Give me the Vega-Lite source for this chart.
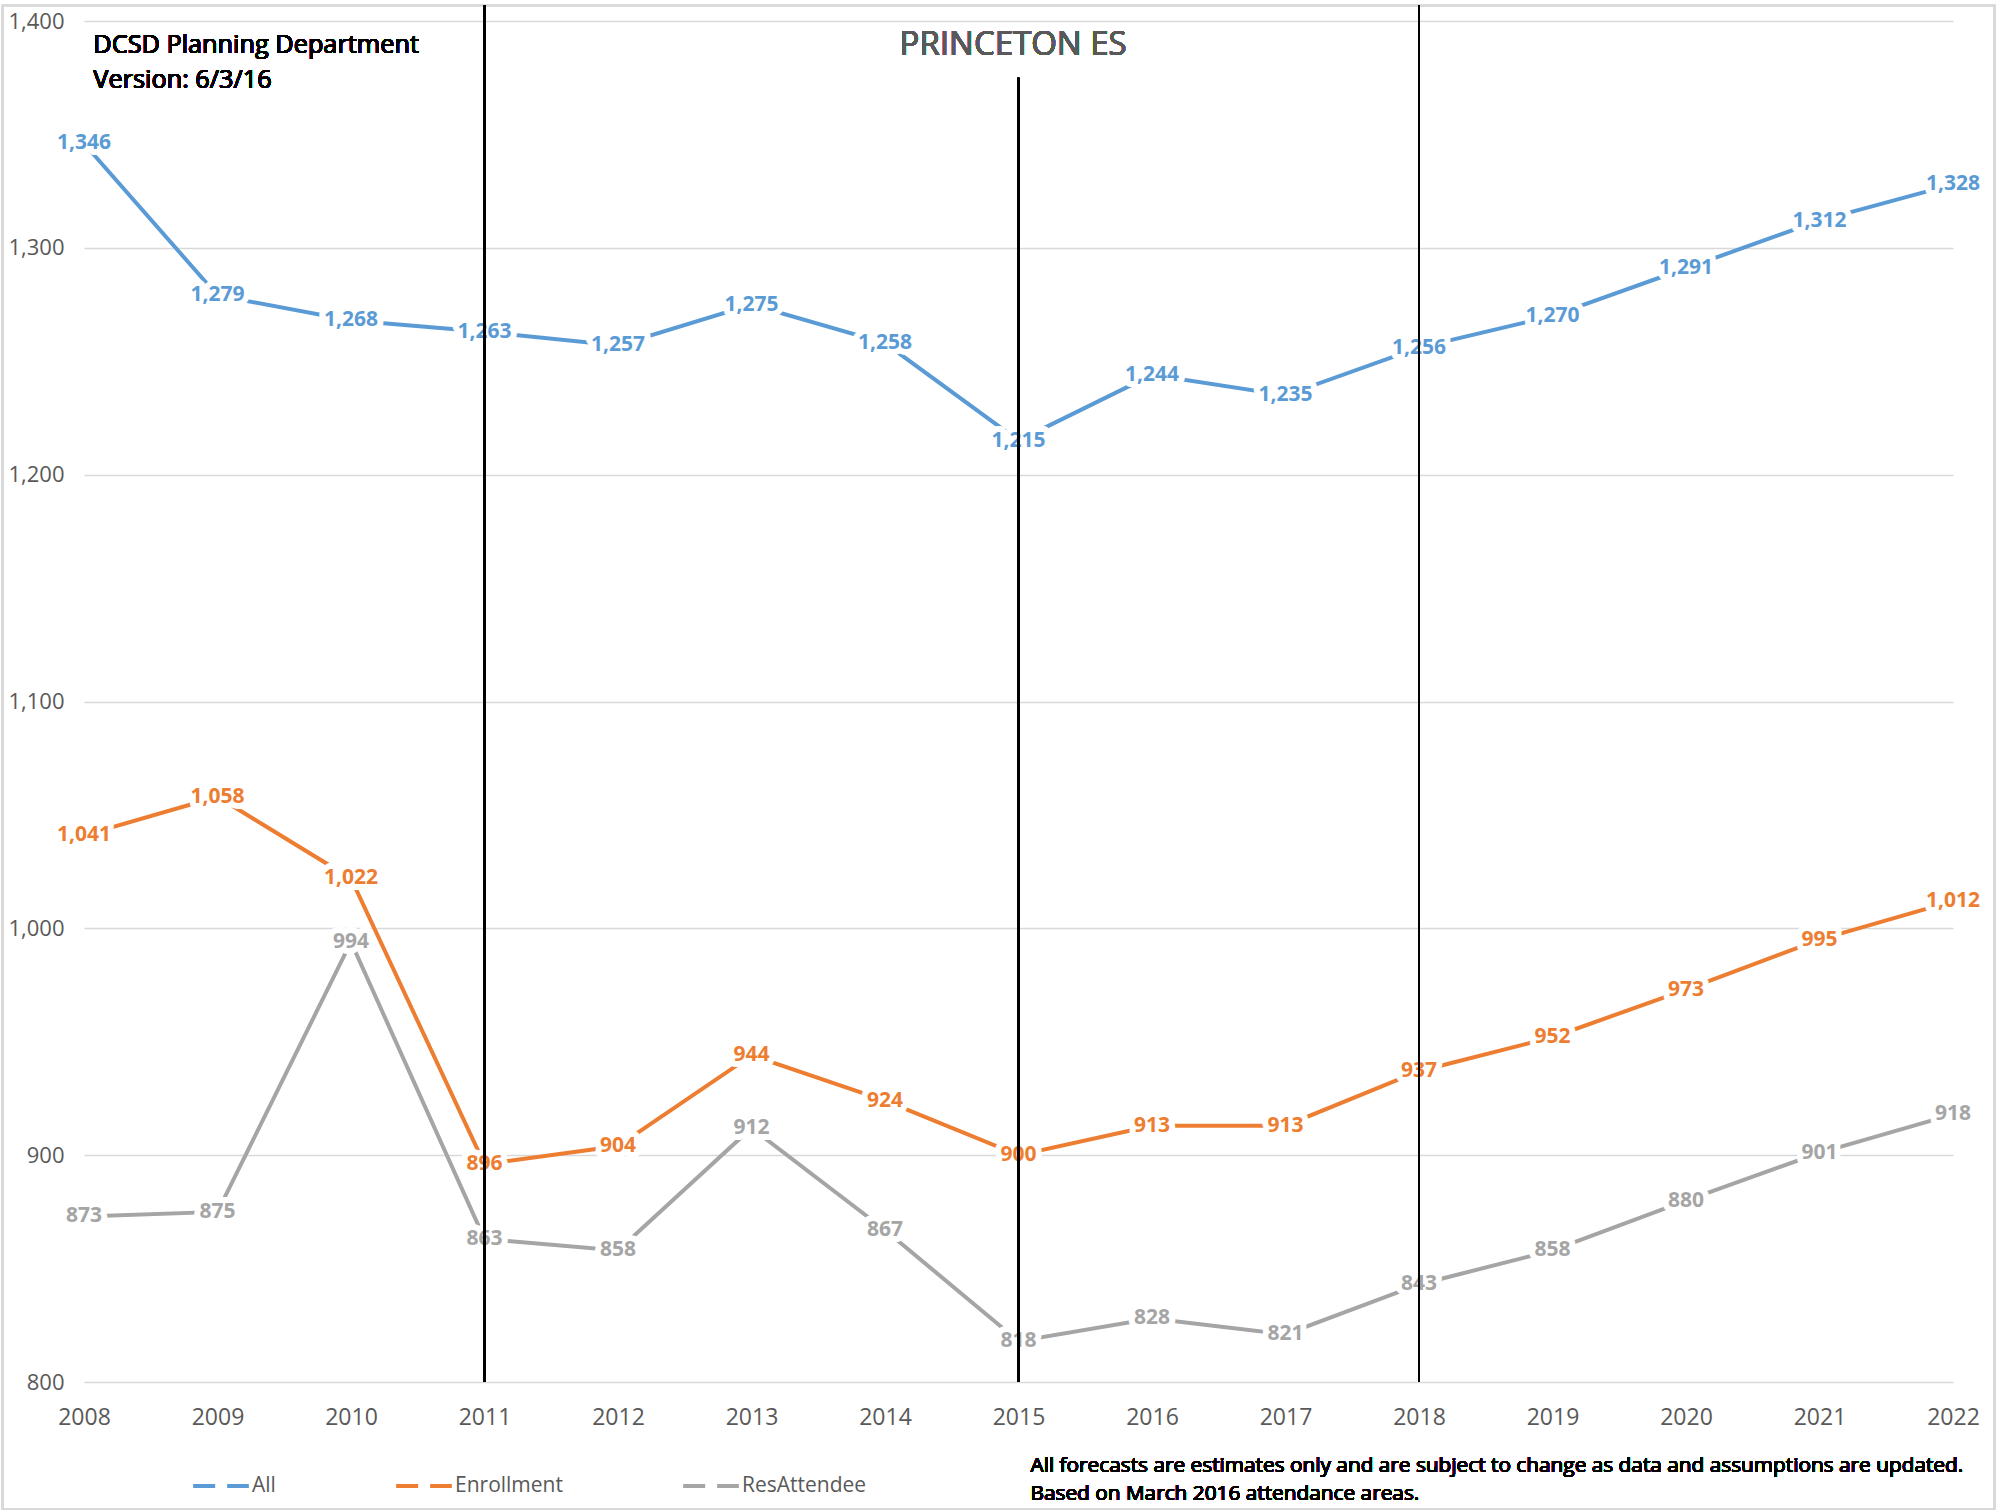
{
  "$schema": "https://vega.github.io/schema/vega-lite/v6.json",
  "autosize": {"type": "none"},
  "width": 1869,
  "height": 1361,
  "padding": {"left": 84, "top": 21, "right": 52, "bottom": 130},
  "background": "white",
  "config": {
    "view": {"stroke": null},
    "font": "Open Sans",
    "axis": {"labelFont": "Open Sans", "labelColor": "#595959"}
  },
  "data": {
    "values": [
      {"year": 2008, "series": "All", "value": 1346},
      {"year": 2009, "series": "All", "value": 1279},
      {"year": 2010, "series": "All", "value": 1268},
      {"year": 2011, "series": "All", "value": 1263},
      {"year": 2012, "series": "All", "value": 1257},
      {"year": 2013, "series": "All", "value": 1275},
      {"year": 2014, "series": "All", "value": 1258},
      {"year": 2015, "series": "All", "value": 1215},
      {"year": 2016, "series": "All", "value": 1244},
      {"year": 2017, "series": "All", "value": 1235},
      {"year": 2018, "series": "All", "value": 1256},
      {"year": 2019, "series": "All", "value": 1270},
      {"year": 2020, "series": "All", "value": 1291},
      {"year": 2021, "series": "All", "value": 1312},
      {"year": 2022, "series": "All", "value": 1328},
      {"year": 2008, "series": "Enrollment", "value": 1041},
      {"year": 2009, "series": "Enrollment", "value": 1058},
      {"year": 2010, "series": "Enrollment", "value": 1022},
      {"year": 2011, "series": "Enrollment", "value": 896},
      {"year": 2012, "series": "Enrollment", "value": 904},
      {"year": 2013, "series": "Enrollment", "value": 944},
      {"year": 2014, "series": "Enrollment", "value": 924},
      {"year": 2015, "series": "Enrollment", "value": 900},
      {"year": 2016, "series": "Enrollment", "value": 913},
      {"year": 2017, "series": "Enrollment", "value": 913},
      {"year": 2018, "series": "Enrollment", "value": 937},
      {"year": 2019, "series": "Enrollment", "value": 952},
      {"year": 2020, "series": "Enrollment", "value": 973},
      {"year": 2021, "series": "Enrollment", "value": 995},
      {"year": 2022, "series": "Enrollment", "value": 1012},
      {"year": 2008, "series": "ResAttendee", "value": 873},
      {"year": 2009, "series": "ResAttendee", "value": 875},
      {"year": 2010, "series": "ResAttendee", "value": 994},
      {"year": 2011, "series": "ResAttendee", "value": 863},
      {"year": 2012, "series": "ResAttendee", "value": 858},
      {"year": 2013, "series": "ResAttendee", "value": 912},
      {"year": 2014, "series": "ResAttendee", "value": 867},
      {"year": 2015, "series": "ResAttendee", "value": 818},
      {"year": 2016, "series": "ResAttendee", "value": 828},
      {"year": 2017, "series": "ResAttendee", "value": 821},
      {"year": 2018, "series": "ResAttendee", "value": 843},
      {"year": 2019, "series": "ResAttendee", "value": 858},
      {"year": 2020, "series": "ResAttendee", "value": 880},
      {"year": 2021, "series": "ResAttendee", "value": 901},
      {"year": 2022, "series": "ResAttendee", "value": 918}
    ]
  },
  "encoding": {
    "x": {
      "field": "year", "type": "quantitative",
      "scale": {"domain": [2008, 2022], "nice": false, "zero": false},
      "axis": {
        "title": null, "values": [2008,2009,2010,2011,2012,2013,2014,2015,2016,2017,2018,2019,2020,2021,2022],
        "format": "d", "grid": false, "domain": false, "ticks": false,
        "labelFontSize": 23, "labelPadding": 24, "labelFlush": false
      }
    },
    "y": {
      "field": "value", "type": "quantitative",
      "scale": {"domain": [800, 1400], "nice": false, "zero": false},
      "axis": {
        "title": null, "values": [800,900,1000,1100,1200,1300,1400], "format": ",d",
        "grid": true, "gridColor": "#D9D9D9", "gridWidth": 1.5,
        "domain": false, "ticks": false, "labelFontSize": 22, "labelPadding": 20
      }
    }
  },
  "layer": [
    {
      "mark": {"type": "rect", "fill": null, "stroke": "#D9D9D9", "strokeWidth": 1.5},
      "encoding": {
        "x": {"datum": 2007.39, "type": "quantitative"},
        "x2": {"datum": 2022.31},
        "y": {"datum": 1406.8, "type": "quantitative"},
        "y2": {"datum": 744}
      }
    },
    {
      "mark": {"type": "line", "strokeWidth": 4, "strokeCap": "butt"},
      "encoding": {
        "color": {
          "field": "series", "type": "nominal",
          "scale": {"domain": ["All", "Enrollment", "ResAttendee"], "range": ["#5B9BD5", "#ED7D31", "#A5A5A5"]},
          "legend": {
            "title": null, "orient": "none", "direction": "horizontal",
            "legendX": 107, "legendY": 1435,
            "symbolType": "stroke", "symbolSize": 3100, "symbolStrokeWidth": 4,
            "symbolDash": [22, 12], "labelFontSize": 21, "labelColor": "#595959",
            "labelFont": "Open Sans", "labelOffset": 1, "columnPadding": 112, "padding": 0
          }
        }
      }
    },
    {
      "mark": {"type": "text", "fontSize": 21, "fontWeight": "bold", "fill": "white", "stroke": "white", "strokeWidth": 12, "strokeJoin": "round", "align": "center", "baseline": "middle"},
      "encoding": {"text": {"field": "value", "type": "quantitative", "format": ","}}
    },
    {
      "mark": {"type": "text", "fontSize": 21, "fontWeight": "bold", "align": "center", "baseline": "middle"},
      "encoding": {
        "text": {"field": "value", "type": "quantitative", "format": ","},
        "fill": {
          "field": "series", "type": "nominal",
          "scale": {"domain": ["All", "Enrollment", "ResAttendee"], "range": ["#5B9BD5", "#ED7D31", "#A5A5A5"]},
          "legend": null
        }
      }
    },
    {
      "mark": {"type": "rule", "color": "black", "strokeWidth": 1.25},
      "encoding": {
        "x": {"datum": 2011, "type": "quantitative"},
        "y": {"datum": 800, "type": "quantitative"},
        "y2": {"datum": 1406.8}
      }
    },
    {
      "mark": {"type": "rule", "color": "black", "strokeWidth": 1.25},
      "encoding": {
        "x": {"datum": 2015, "type": "quantitative"},
        "y": {"datum": 800, "type": "quantitative"},
        "y2": {"datum": 1375}
      }
    },
    {
      "mark": {"type": "rule", "color": "black", "strokeWidth": 1.25},
      "encoding": {
        "x": {"datum": 2018, "type": "quantitative"},
        "y": {"datum": 800, "type": "quantitative"},
        "y2": {"datum": 1406.8}
      }
    },
    {
      "mark": {"type": "text", "text": "PRINCETON ES", "fontSize": 33, "fontWeight": "normal", "fill": "#595959", "stroke": null, "align": "center", "baseline": "middle"},
      "encoding": {
        "x": {"datum": 2014.96, "type": "quantitative"},
        "y": {"datum": 1389.2, "type": "quantitative"}
      }
    },
    {
      "mark": {"type": "text", "text": ["DCSD Planning Department", "Version: 6/3/16"], "fontSize": 25.3, "fontWeight": "normal", "lineHeight": 35, "fill": "black", "stroke": null, "align": "left", "baseline": "middle"},
      "encoding": {
        "x": {"datum": 2008.07, "type": "quantitative"},
        "y": {"datum": 1389.5, "type": "quantitative"}
      }
    },
    {
      "mark": {"type": "text", "text": ["All forecasts are estimates only and are subject to change as data and assumptions are updated.", "Based on March 2016 attendance areas."], "fontSize": 20.8, "fontWeight": "normal", "lineHeight": 28, "fill": "black", "stroke": null, "align": "left", "baseline": "middle"},
      "encoding": {
        "x": {"datum": 2015.09, "type": "quantitative"},
        "y": {"datum": 763, "type": "quantitative"}
      }
    }
  ]
}
